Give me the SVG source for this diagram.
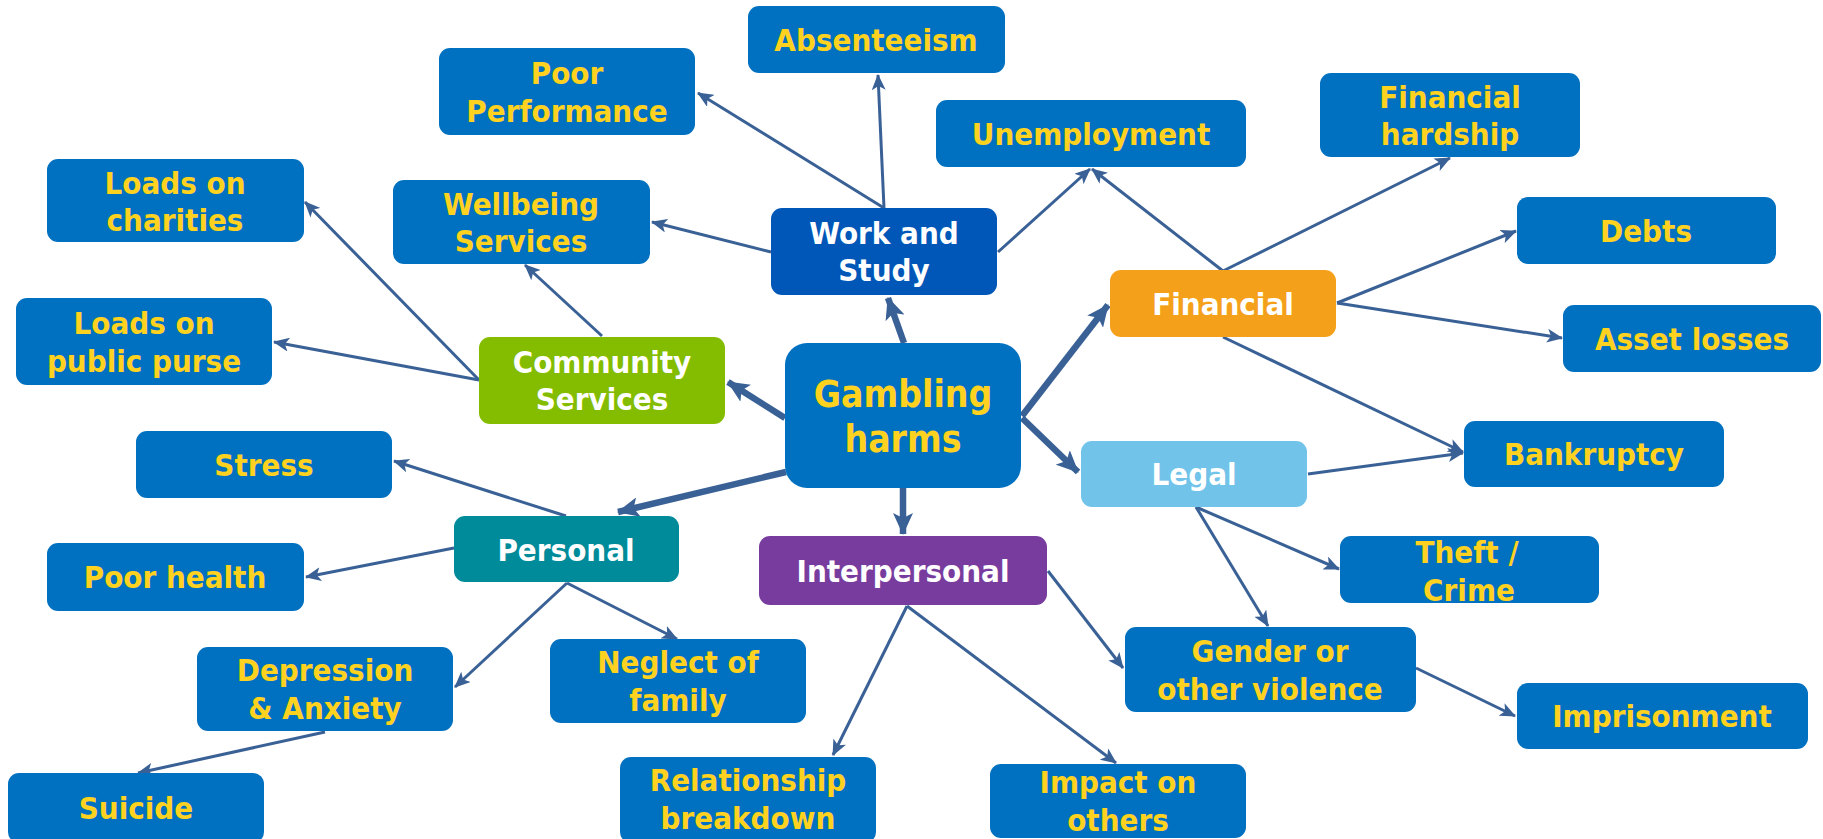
<svg xmlns="http://www.w3.org/2000/svg" width="1823" height="839" viewBox="0 0 1823 839">
<style>
  text { font-family: "DejaVu Sans Condensed", "DejaVu Sans", "Liberation Sans", sans-serif; font-stretch: condensed; font-weight: bold; font-size: 31px; text-anchor: middle; }
  .leaf rect { fill: #0070C0; }
  .leaf text { fill: #FFD21F; }
  .cat text { fill: #FFFFFF; }
  .thin { stroke: #3A6196; stroke-width: 3; fill: none; marker-end: url(#arrThin); }
  .thick { stroke: #3A6196; stroke-width: 6.5; fill: none; marker-end: url(#arrThick); }
</style>
<defs>
  <marker id="arrThin" markerUnits="userSpaceOnUse" viewBox="0 0 16 14" markerWidth="16" markerHeight="14" refX="15" refY="7" orient="auto">
    <path d="M0,0 L16,7 L0,14 L4,7 z" fill="#3A6196"/>
  </marker>
  <marker id="arrThick" markerUnits="userSpaceOnUse" viewBox="0 0 22 20" markerWidth="22" markerHeight="20" refX="21" refY="10" orient="auto">
    <path d="M0,0 L22,10 L0,20 L5,10 z" fill="#3A6196"/>
  </marker>
</defs>
<rect width="1823" height="839" fill="#FFFFFF"/>

<g id="connectors">
  <!-- thick from Gambling harms -->
  <line class="thick" x1="904" y1="343" x2="888" y2="298"/>
  <line class="thick" x1="785" y1="418" x2="728" y2="382"/>
  <line class="thick" x1="1022" y1="416" x2="1108" y2="305"/>
  <line class="thick" x1="1022" y1="418" x2="1078" y2="472"/>
  <line class="thick" x1="903" y1="488" x2="903" y2="534"/>
  <line class="thick" x1="786" y1="472" x2="618" y2="512"/>
  <!-- Work and Study -->
  <line class="thin" x1="884" y1="208" x2="698" y2="93"/>
  <line class="thin" x1="884" y1="208" x2="878" y2="75"/>
  <line class="thin" x1="771" y1="252" x2="652" y2="222"/>
  <line class="thin" x1="998" y1="252" x2="1090" y2="169"/>
  <!-- Financial -->
  <line class="thin" x1="1223" y1="271" x2="1092" y2="169"/>
  <line class="thin" x1="1223" y1="271" x2="1450" y2="158"/>
  <line class="thin" x1="1337" y1="303" x2="1516" y2="231"/>
  <line class="thin" x1="1337" y1="303" x2="1562" y2="338"/>
  <line class="thin" x1="1223" y1="337" x2="1463" y2="452"/>
  <!-- Legal -->
  <line class="thin" x1="1308" y1="474" x2="1463" y2="453"/>
  <line class="thin" x1="1196" y1="507" x2="1339" y2="569"/>
  <line class="thin" x1="1196" y1="507" x2="1268" y2="626"/>
  <!-- Interpersonal -->
  <line class="thin" x1="1048" y1="571" x2="1123" y2="668"/>
  <line class="thin" x1="907" y1="606" x2="833" y2="755"/>
  <line class="thin" x1="907" y1="606" x2="1116" y2="763"/>
  <!-- Gender -->
  <line class="thin" x1="1416" y1="668" x2="1515" y2="716"/>
  <!-- Community Services -->
  <line class="thin" x1="479" y1="380" x2="305" y2="202"/>
  <line class="thin" x1="479" y1="380" x2="274" y2="342"/>
  <line class="thin" x1="602" y1="336" x2="525" y2="265"/>
  <!-- Personal -->
  <line class="thin" x1="566" y1="516" x2="394" y2="461"/>
  <line class="thin" x1="454" y1="548" x2="306" y2="577"/>
  <line class="thin" x1="567" y1="583" x2="455" y2="687"/>
  <line class="thin" x1="567" y1="583" x2="677" y2="639"/>
  <!-- Depression -->
  <line class="thin" x1="325" y1="732" x2="138" y2="773"/>
</g>

<!-- Central node -->
<g id="n-gambling-harms" class="cat">
  <rect x="785" y="343" width="236" height="145" rx="22" fill="#0070C0"/>
  <text x="903" y="407" style="font-size:37px;fill:#FFD21F">Gambling</text>
  <text x="903" y="452" style="font-size:37px;fill:#FFD21F">harms</text>
</g>

<!-- Category nodes -->
<g id="n-work-study" class="cat">
  <rect x="771" y="208" width="226" height="87" rx="11" fill="#0057B8"/>
  <text x="884" y="244">Work and</text>
  <text x="884" y="281">Study</text>
</g>
<g id="n-financial" class="cat">
  <rect x="1110" y="270" width="226" height="67" rx="11" fill="#F5A01A"/>
  <text x="1223" y="315">Financial</text>
</g>
<g id="n-legal" class="cat">
  <rect x="1081" y="441" width="226" height="66" rx="11" fill="#71C3E9"/>
  <text x="1194" y="485">Legal</text>
</g>
<g id="n-interpersonal" class="cat">
  <rect x="759" y="536" width="288" height="69" rx="11" fill="#783C9F"/>
  <text x="903" y="582">Interpersonal</text>
</g>
<g id="n-personal" class="cat">
  <rect x="454" y="516" width="225" height="66" rx="11" fill="#008B9B"/>
  <text x="566" y="561">Personal</text>
</g>
<g id="n-community-services" class="cat">
  <rect x="479" y="337" width="246" height="87" rx="11" fill="#84BC00"/>
  <text x="602" y="373">Community</text>
  <text x="602" y="410">Services</text>
</g>

<!-- Leaf nodes -->
<g id="n-poor-performance" class="leaf">
  <rect x="439" y="48" width="256" height="87" rx="11"/>
  <text x="567" y="84">Poor</text>
  <text x="567" y="122">Performance</text>
</g>
<g id="n-absenteeism" class="leaf">
  <rect x="748" y="6" width="257" height="67" rx="11"/>
  <text x="876" y="51">Absenteeism</text>
</g>
<g id="n-unemployment" class="leaf">
  <rect x="936" y="100" width="310" height="67" rx="11"/>
  <text x="1091" y="145">Unemployment</text>
</g>
<g id="n-financial-hardship" class="leaf">
  <rect x="1320" y="73" width="260" height="84" rx="11"/>
  <text x="1450" y="108">Financial</text>
  <text x="1450" y="145">hardship</text>
</g>
<g id="n-debts" class="leaf">
  <rect x="1517" y="197" width="259" height="67" rx="11"/>
  <text x="1646" y="242">Debts</text>
</g>
<g id="n-asset-losses" class="leaf">
  <rect x="1563" y="305" width="258" height="67" rx="11"/>
  <text x="1692" y="350">Asset losses</text>
</g>
<g id="n-bankruptcy" class="leaf">
  <rect x="1464" y="421" width="260" height="66" rx="11"/>
  <text x="1594" y="465">Bankruptcy</text>
</g>
<g id="n-theft-crime" class="leaf">
  <rect x="1340" y="536" width="259" height="67" rx="11"/>
  <text x="1467" y="563">Theft /</text>
  <text x="1469" y="601">Crime</text>
</g>
<g id="n-gender-violence" class="leaf">
  <rect x="1125" y="627" width="291" height="85" rx="11"/>
  <text x="1270" y="662">Gender or</text>
  <text x="1270" y="700">other violence</text>
</g>
<g id="n-imprisonment" class="leaf">
  <rect x="1517" y="683" width="291" height="66" rx="11"/>
  <text x="1662" y="727">Imprisonment</text>
</g>
<g id="n-impact-others" class="leaf">
  <rect x="990" y="764" width="256" height="74" rx="11"/>
  <text x="1118" y="793">Impact on</text>
  <text x="1118" y="831">others</text>
</g>
<g id="n-relationship-breakdown" class="leaf">
  <rect x="620" y="757" width="256" height="86" rx="11"/>
  <text x="748" y="791">Relationship</text>
  <text x="748" y="829">breakdown</text>
</g>
<g id="n-neglect-family" class="leaf">
  <rect x="550" y="639" width="256" height="84" rx="11"/>
  <text x="678" y="673">Neglect of</text>
  <text x="678" y="711">family</text>
</g>
<g id="n-depression-anxiety" class="leaf">
  <rect x="197" y="647" width="256" height="84" rx="11"/>
  <text x="325" y="681">Depression</text>
  <text x="325" y="719">&amp; Anxiety</text>
</g>
<g id="n-suicide" class="leaf">
  <rect x="8" y="773" width="256" height="70" rx="11"/>
  <text x="136" y="819">Suicide</text>
</g>
<g id="n-stress" class="leaf">
  <rect x="136" y="431" width="256" height="67" rx="11"/>
  <text x="264" y="476">Stress</text>
</g>
<g id="n-poor-health" class="leaf">
  <rect x="47" y="543" width="257" height="68" rx="11"/>
  <text x="175" y="588">Poor health</text>
</g>
<g id="n-loads-public-purse" class="leaf">
  <rect x="16" y="298" width="256" height="87" rx="11"/>
  <text x="144" y="334">Loads on</text>
  <text x="144" y="372">public purse</text>
</g>
<g id="n-loads-charities" class="leaf">
  <rect x="47" y="159" width="257" height="83" rx="11"/>
  <text x="175" y="194">Loads on</text>
  <text x="175" y="231">charities</text>
</g>
<g id="n-wellbeing-services" class="leaf">
  <rect x="393" y="180" width="257" height="84" rx="11"/>
  <text x="521" y="215">Wellbeing</text>
  <text x="521" y="252">Services</text>
</g>
</svg>
